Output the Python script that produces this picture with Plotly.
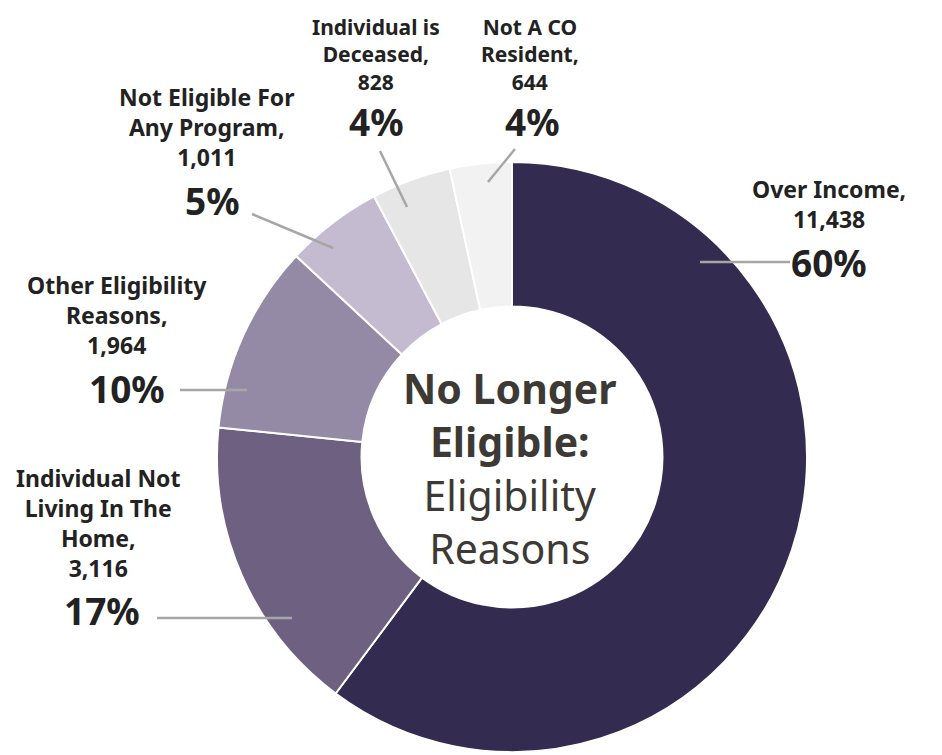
import plotly.graph_objects as go

W, H = 942, 755
OFF = 8  # the page body has an 8px margin

# data
categories = ["Over Income", "Individual Not Living In The Home", "Other Eligibility Reasons",
              "Not Eligible For Any Program", "Individual is Deceased", "Not A CO Resident"]
counts = [11438, 3116, 1964, 1011, 828, 644]
pct_shown = ["60%", "17%", "10%", "5%", "4%", "4%"]
wrapped = ["Over Income,", "Individual Not<br>Living In The<br>Home,", "Other Eligibility<br>Reasons,",
           "Not Eligible For<br>Any Program,", "Individual is<br>Deceased,", "Not A CO<br>Resident,"]
colors = ["#332C50", "#6E6080", "#958AA5", "#C5BBD0", "#E6E6E6", "#F2F2F2"]

# label layout (pixel positions in the picture): text block center + size, percent center, leader line
label_pos = [
    dict(tx=829, ty=204, ts=23, px=829, py=263, line=(700, 262, 790, 262)),
    dict(tx=98, ty=523, ts=23, px=102, py=610, line=(157, 618, 292, 618)),
    dict(tx=117, ty=315, ts=23, px=127, py=388, line=(180, 390, 247, 390)),
    dict(tx=206, ty=127, ts=23, px=212, py=200, line=(252, 214, 333, 248)),
    dict(tx=376, ty=54, ts=21, px=376, py=121, line=(380, 151, 407, 207)),
    dict(tx=530, ty=54, ts=21, px=532, py=121, line=(515, 149, 488, 182)),
]

FONT = "Noto Sans"
cx, cy, r = 512, 457, 295


def px_x(x):
    return (x - OFF) / W


def px_y(y):
    return 1 - (y - OFF) / H


fig = go.Figure(go.Pie(
    labels=categories,
    values=counts,
    sort=False,
    direction="clockwise",
    rotation=0,
    hole=0.51,
    marker=dict(colors=colors, line=dict(color="white", width=2)),
    textinfo="none",
    hoverinfo="label+value+percent",
    domain=dict(x=[px_x(cx - r), px_x(cx + r)], y=[px_y(cy + r), px_y(cy - r)]),
    showlegend=False,
))

annotations = []
shapes = []
for name, n, pct, pos in zip(wrapped, counts, pct_shown, label_pos):
    annotations.append(dict(
        x=px_x(pos["tx"]), y=px_y(pos["ty"]), xref="paper", yref="paper",
        text=f"<b>{name}<br>{n:,}</b>", showarrow=False,
        xanchor="center", yanchor="middle", align="center",
        font=dict(family=FONT, size=pos["ts"], color="#222222"),
    ))
    annotations.append(dict(
        x=px_x(pos["px"]), y=px_y(pos["py"]), xref="paper", yref="paper",
        text=f"<b>{pct}</b>", showarrow=False,
        xanchor="center", yanchor="middle",
        font=dict(family=FONT, size=37, color="#222222"),
    ))
    x0, y0, x1, y1 = pos["line"]
    shapes.append(dict(
        type="line", xref="paper", yref="paper",
        x0=px_x(x0), y0=px_y(y0), x1=px_x(x1), y1=px_y(y1),
        line=dict(color="#A6A6A6", width=2.5),
    ))

# center title
annotations.append(dict(
    x=px_x(510), y=px_y(468), xref="paper", yref="paper",
    text="<b>No Longer<br>Eligible:</b><br>Eligibility<br>Reasons", showarrow=False,
    xanchor="center", yanchor="middle", align="center",
    font=dict(family=FONT, size=41, color="#3D3935"),
))

fig.update_layout(
    width=W, height=H,
    margin=dict(l=0, r=0, t=0, b=0),
    paper_bgcolor="white",
    plot_bgcolor="white",
    annotations=annotations,
    shapes=shapes,
)

fig.write_html("out.html")
